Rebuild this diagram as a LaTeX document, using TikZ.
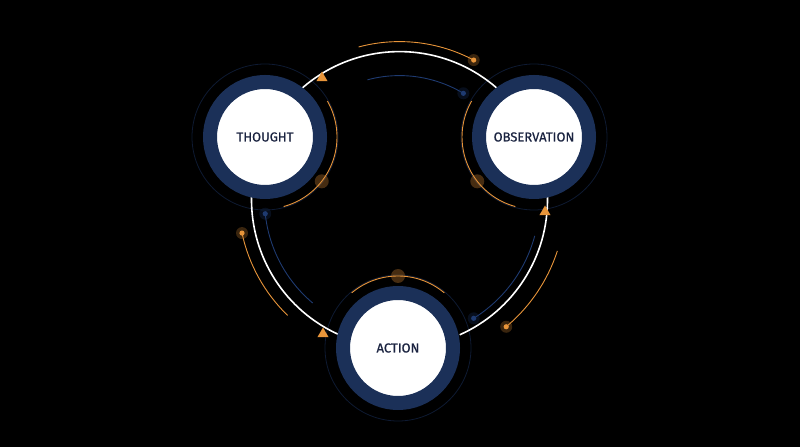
\documentclass[tikz,border=0pt]{standalone}
\usepackage{fontspec}
\setmainfont{Fira Sans}
\usetikzlibrary{shapes.geometric}
\definecolor{navy}{HTML}{1B3058}
\definecolor{ink}{HTML}{1A2340}
\definecolor{amber}{HTML}{E8953A}
\definecolor{dimblue}{HTML}{1E3A70}
\tikzset{
  stage/.style={circle, fill=white, draw=navy, line width=14pt, minimum size=110pt,
    inner sep=0pt, text=ink, font=\fontsize{13}{15}\selectfont\addfontfeature{FakeBold=0.6}},
  flow/.style={white, line width=1.6pt},
  tip/.style={regular polygon, regular polygon sides=3, fill=amber, inner sep=0pt, minimum size=13pt},
  accent/.style={amber, line width=0.9pt},
  shade/.style={dimblue, line width=0.9pt},
  halo/.style={dimblue!45!black, line width=0.8pt}
}
\newcommand{\glowdot}[2]{%
  \fill[#1, opacity=0.25] #2 circle (6pt);
  \fill[#1] #2 circle (2.6pt);}
\begin{document}
\begin{tikzpicture}[x=1pt,y=1pt]
\fill[black] (0,0) rectangle (800,447);
\useasboundingbox (0,0) rectangle (800,447);
\coordinate (C) at (399.5,247.4);
% halos round the stages
\draw[halo] (265,310) circle (73);
\draw[halo] (534,310) circle (73);
\draw[halo] (398,99) circle (73);
% cycle
\draw[flow] ([shift={(49:148)}]C) arc (49:131:148);
\draw[flow] ([shift={(-66:148)}]C) arc (-66:1:148);
\draw[flow] ([shift={(179:148)}]C) arc (179:246:148);
% accents
\draw[accent] ([shift={(62:158)}]C) arc (62:105:158);
\draw[shade] ([shift={(59:124)}]C) arc (59:105:124);
\draw[accent] ([shift={(192:161)}]C) arc (192:226:161);
\draw[shade] ([shift={(186:135)}]C) arc (186:230:135);
\draw[accent] ([shift={(310:166)}]C) arc (310:342:166);
\draw[shade] ([shift={(302:140)}]C) arc (302:345:140);
\glowdot{amber}{([shift={(62:158)}]C)}
\glowdot{dimblue}{([shift={(59:124)}]C)}
\glowdot{amber}{([shift={(192:161)}]C)}
\glowdot{dimblue}{([shift={(186:135)}]C)}
\glowdot{amber}{([shift={(310:166)}]C)}
\glowdot{dimblue}{([shift={(302:140)}]C)}
% accents hugging the stages
\draw[accent] ([shift={(-75:72)}]265,310) arc (-75:30:72);
\draw[accent] ([shift={(150:72)}]534,310) arc (150:255:72);
\draw[accent] ([shift={(50:72)}]398,99) arc (50:130:72);
\fill[amber, opacity=0.3] ([shift={(-38:72)}]265,310) circle (7pt);
\fill[amber, opacity=0.3] ([shift={(218:72)}]534,310) circle (7pt);
\fill[amber, opacity=0.3] ([shift={(90:72)}]398,99) circle (7pt);
% stages
\node[stage] (thought) at (265,310) {THOUGHT};
\node[stage] (observation) at (534,310) {OBSERVATION};
\node[stage] (action) at (398,99) {ACTION};
% tips
\node[tip] (t1) at (322,369) {};
\node[tip] (t2) at (545,235) {};
\node[tip] (t3) at (323,113) {};
\end{tikzpicture}
\end{document}
